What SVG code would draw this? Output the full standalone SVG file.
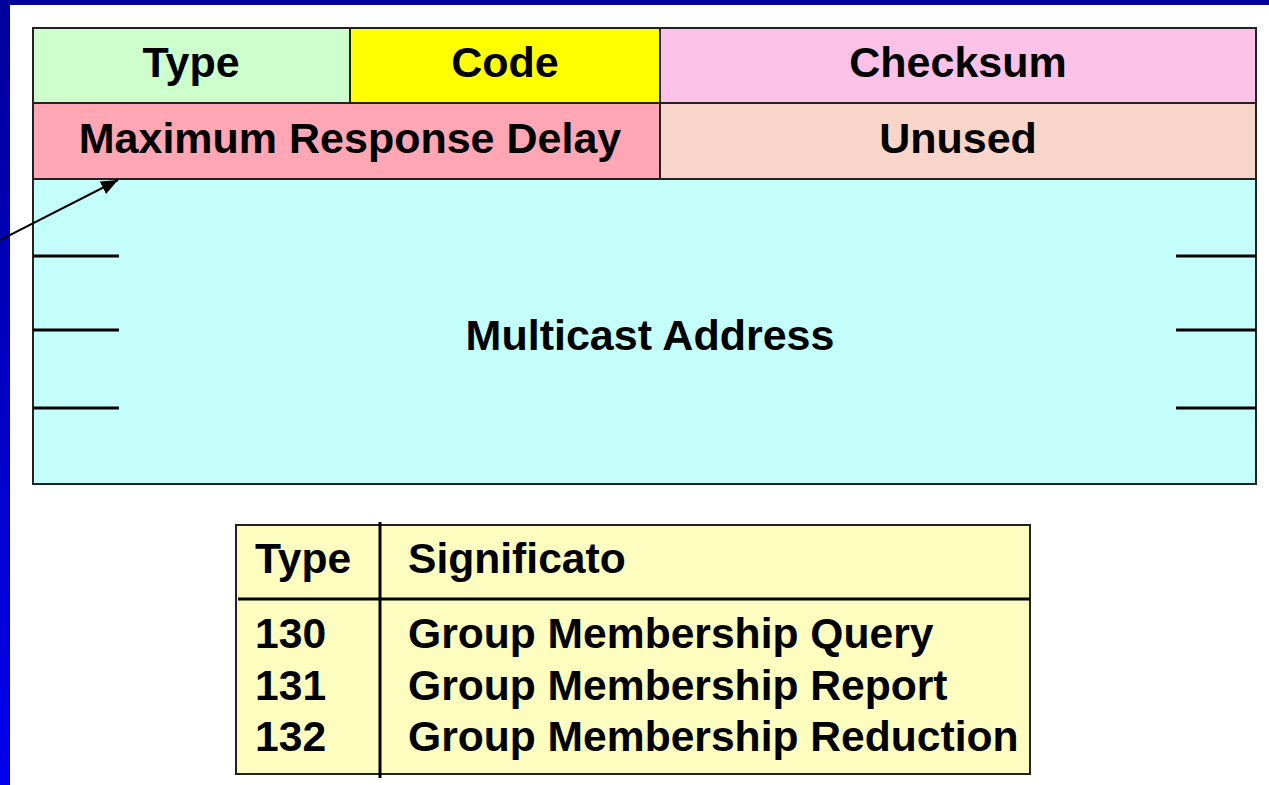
<svg xmlns="http://www.w3.org/2000/svg" width="1269" height="785" viewBox="0 0 1269 785">
  <defs>
    <linearGradient id="sideBand" x1="0" y1="0" x2="0" y2="1">
      <stop offset="0" stop-color="#00009a"/>
      <stop offset="1" stop-color="#0000ee"/>
    </linearGradient>
    <marker id="arrowHead" viewBox="0 0 17 14" refX="17" refY="7" markerWidth="17" markerHeight="14" markerUnits="userSpaceOnUse" orient="auto">
      <path d="M0,0 L17,7 L0,14 Z" fill="#000"/>
    </marker>
    <style>
      .lbl { font-family: "Liberation Sans", Arial, sans-serif; font-weight: bold; font-size: 43px; fill: #000; }
      .tbl { font-size: 42.6px; }
      .mid { text-anchor: middle; }
      .cell { stroke: #222; stroke-width: 2; }
      .tick { stroke: #000; stroke-width: 3; }
      .rule { stroke: #000; stroke-width: 3; }
    </style>
  </defs>

  <!-- page background and slide frame -->
  <rect x="0" y="0" width="1269" height="785" fill="#ffffff"/>
  <rect x="0" y="0" width="1269" height="5" fill="#000099"/>
  <rect x="0" y="0" width="10" height="785" fill="url(#sideBand)"/>

  <!-- header fields -->
  <g id="field-type">
    <rect class="cell" x="33" y="28" width="317" height="75" fill="#ccffcc"/>
    <text class="lbl mid" x="191" y="77">Type</text>
  </g>
  <g id="field-code">
    <rect class="cell" x="350" y="28" width="310" height="75" fill="#ffff00"/>
    <text class="lbl mid" x="505" y="77">Code</text>
  </g>
  <g id="field-checksum">
    <rect class="cell" x="660" y="28" width="596" height="75" fill="#fcc1e6"/>
    <text class="lbl mid" x="958" y="77">Checksum</text>
  </g>
  <g id="field-max-delay">
    <rect class="cell" x="33" y="103" width="627" height="76" fill="#ffa6b4"/>
    <text class="lbl mid" x="350" y="153">Maximum Response Delay</text>
  </g>
  <g id="field-unused">
    <rect class="cell" x="660" y="103" width="596" height="76" fill="#f9d4c8"/>
    <text class="lbl mid" x="958" y="153">Unused</text>
  </g>
  <g id="field-multicast">
    <rect class="cell" x="33" y="179" width="1223" height="305" fill="#c4fffb"/>
    <line class="tick" x1="33" y1="256" x2="119" y2="256"/>
    <line class="tick" x1="33" y1="330" x2="119" y2="330"/>
    <line class="tick" x1="33" y1="408" x2="119" y2="408"/>
    <line class="tick" x1="1176" y1="256" x2="1256" y2="256"/>
    <line class="tick" x1="1176" y1="330" x2="1256" y2="330"/>
    <line class="tick" x1="1176" y1="408" x2="1256" y2="408"/>
    <text class="lbl mid" x="650" y="350">Multicast Address</text>
  </g>

  <!-- type table -->
  <g id="type-table">
    <rect class="cell" x="236" y="525" width="794" height="249" fill="#fdfdc0" stroke-width="2.5"/>
    <line class="rule" x1="238" y1="599" x2="1030" y2="599"/>
    <line class="rule" x1="380" y1="522" x2="380" y2="778"/>
    <text class="lbl tbl" x="255" y="573">Type</text>
    <text class="lbl tbl" x="408" y="573">Significato</text>
    <text class="lbl tbl" x="255" y="648">130</text>
    <text class="lbl tbl" x="408" y="648">Group Membership Query</text>
    <text class="lbl tbl" x="255" y="700">131</text>
    <text class="lbl tbl" x="408" y="700">Group Membership Report</text>
    <text class="lbl tbl" x="255" y="751">132</text>
    <text class="lbl tbl" x="408" y="751">Group Membership Reduction</text>
  </g>

  <!-- connectors -->
  <g id="connectors">
    <line x1="0" y1="240" x2="118" y2="180" stroke="#000" stroke-width="2" marker-end="url(#arrowHead)"/>
  </g>
</svg>
